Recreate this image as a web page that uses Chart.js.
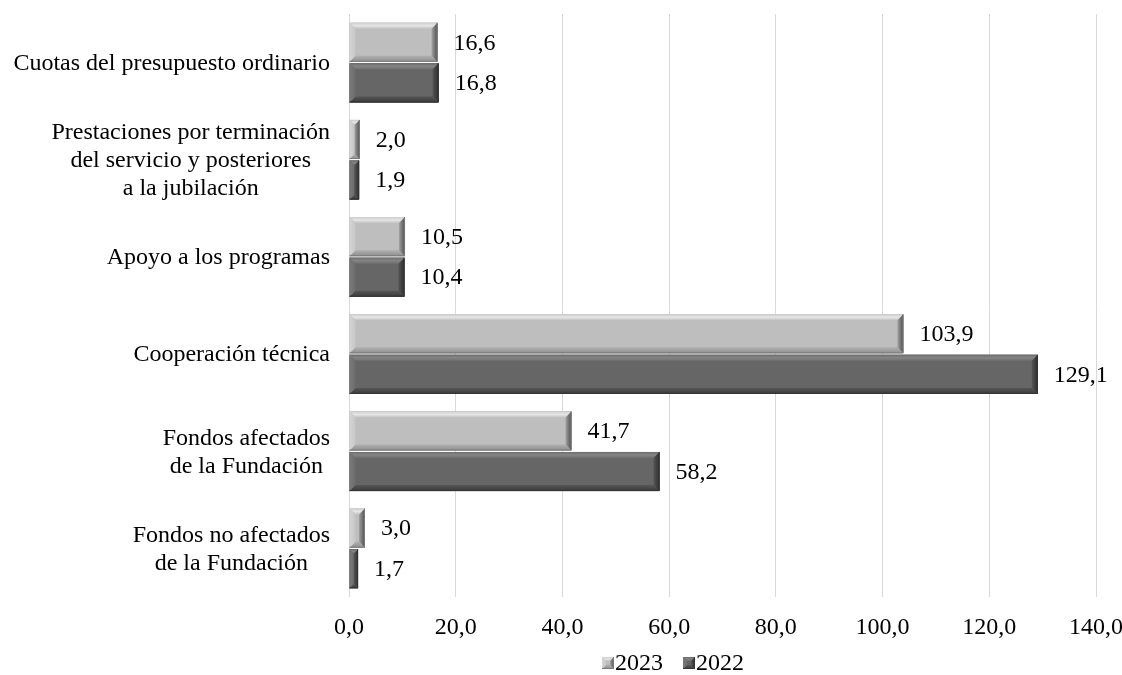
<!DOCTYPE html>
<html>
<head>
<meta charset="utf-8">
<script src="https://cdn.jsdelivr.net/npm/chart.js@4.4.1/dist/chart.umd.min.js"></script>
<style>
  html, body { margin: 0; padding: 0; background: #ffffff; }
  #wrap { width: 1122px; height: 675px; position: relative; }
</style>
</head>
<body>
<div id="wrap"><canvas id="c"></canvas></div>
<script>
// Categories (multi-line labels are arrays of lines)
const categories = [
  'Cuotas del presupuesto ordinario',
  ['Prestaciones por terminación', 'del servicio y posteriores', 'a la jubilación'],
  'Apoyo a los programas',
  'Cooperación técnica',
  ['Fondos afectados', 'de la Fundación'],
  ['Fondos no afectados', 'de la Fundación']
];
const seriesNames = ['2023', '2022'];
const values2023 = [16.6, 2.0, 10.5, 103.9, 41.7, 3.0];
const values2022 = [16.8, 1.9, 10.4, 129.1, 58.2, 1.7];
const xTickValues = [0, 20, 40, 60, 80, 100, 120, 140];

const FONT_FAMILY = '"Liberation Serif", "Times New Roman", serif';
const FONT_SIZE = 24;

// Face and edge shades for the two series
const palettes = [
  { base: '#bebebe',
    top: ['#cdcdcd', '#e6e6e6', '#c3c3c3'],
    bottom: ['#b0b0b0', '#8e8e8e'],
    left: ['#d6d6d6', '#c6c6c6'],
    right: ['#a2a2a2', '#4c4c4c'],
    edge: '#7a7a7a' },
  { base: '#666666',
    top: ['#6c6c6c', '#858585', '#6e6e6e'],
    bottom: ['#565656', '#3a3a3a'],
    left: ['#7a7a7a', '#6c6c6c'],
    right: ['#555555', '#2e2e2e'],
    edge: '#333333' }
];

const fmt = v => v.toFixed(1).replace('.', ',');

// Bevelled rectangle: flat face plus four sloped edges shaded with gradients
function drawBevel(ctx, l, t, r, b, pal, depth) {
  const w = r - l, h = b - t;
  if (w <= 0 || h <= 0) return;
  const d = Math.max(1, Math.min(depth, w / 2, h / 2));
  ctx.save();
  ctx.fillStyle = pal.base;
  ctx.fillRect(l, t, w, h);
  const poly = (pts, fill) => {
    ctx.beginPath();
    ctx.moveTo(pts[0][0], pts[0][1]);
    for (let i = 1; i < pts.length; i++) ctx.lineTo(pts[i][0], pts[i][1]);
    ctx.closePath();
    ctx.fillStyle = fill;
    ctx.fill();
  };
  const grad = (x0, y0, x1, y1, stops) => {
    const g = ctx.createLinearGradient(x0, y0, x1, y1);
    stops.forEach((c, i) => g.addColorStop(i / (stops.length - 1), c));
    return g;
  };
  poly([[l, t], [r, t], [r - d, t + d], [l + d, t + d]], grad(0, t, 0, t + d, pal.top));
  poly([[l, b], [r, b], [r - d, b - d], [l + d, b - d]], grad(0, b - d, 0, b, pal.bottom));
  poly([[l, t], [l + d, t + d], [l + d, b - d], [l, b]], grad(l, 0, l + d, 0, pal.left));
  poly([[r, t], [r - d, t + d], [r - d, b - d], [r, b]], grad(r - d, 0, r, 0, pal.right));
  ctx.strokeStyle = pal.edge;
  ctx.lineWidth = 1;
  ctx.beginPath();
  ctx.moveTo(r - 0.5, t);
  ctx.lineTo(r - 0.5, b - 0.5);
  ctx.lineTo(l, b - 0.5);
  ctx.stroke();
  ctx.restore();
}

// Bevel overlay on each bar, plus its value label at the bar end
const bevelBars = {
  id: 'bevelBars',
  afterDatasetsDraw(chart) {
    const ctx = chart.ctx;
    chart.data.datasets.forEach((ds, di) => {
      const meta = chart.getDatasetMeta(di);
      meta.data.forEach((bar, i) => {
        const p = bar.getProps(['x', 'y', 'base', 'height'], true);
        const l = Math.min(p.x, p.base), r = Math.max(p.x, p.base);
        const t = p.y - p.height / 2, b = p.y + p.height / 2;
        drawBevel(ctx, l, t, r, b, palettes[di], 6);
        ctx.save();
        ctx.font = FONT_SIZE + 'px ' + FONT_FAMILY;
        ctx.fillStyle = '#000000';
        ctx.textAlign = 'left';
        ctx.textBaseline = 'middle';
        ctx.fillText(fmt(ds.data[i]), r + 16, p.y + 1);
        ctx.restore();
      });
    });
  }
};

// Category labels: block right-aligned to the axis, lines centred within it
const categoryLabels = {
  id: 'categoryLabels',
  afterDraw(chart) {
    const ctx = chart.ctx;
    const yScale = chart.scales.y;
    const right = chart.chartArea.left - 19;
    const lh = 28;
    ctx.save();
    ctx.font = FONT_SIZE + 'px ' + FONT_FAMILY;
    ctx.fillStyle = '#000000';
    ctx.textAlign = 'center';
    ctx.textBaseline = 'middle';
    categories.forEach((lab, i) => {
      const lines = Array.isArray(lab) ? lab : [lab];
      const maxW = Math.max(...lines.map(s => ctx.measureText(s).width));
      const cx = right - maxW / 2;
      const cy = yScale.getPixelForValue(i);
      lines.forEach((s, j) => {
        ctx.fillText(s, cx, cy + (j - (lines.length - 1) / 2) * lh + 1);
      });
    });
    ctx.restore();
  }
};

// Series key under the value axis: bevelled square followed by the year
const seriesKey = {
  id: 'seriesKey',
  afterDraw(chart) {
    const ctx = chart.ctx;
    const box = 12, gapText = 1, gapItem = 20;
    const cy = chart.height - 12;
    const centreX = chart.chartArea.left + 324;
    ctx.save();
    ctx.font = FONT_SIZE + 'px ' + FONT_FAMILY;
    const items = chart.data.datasets.map((ds, i) => ({ text: ds.label, w: ctx.measureText(ds.label).width, pal: palettes[i] }));
    const total = items.reduce((s, it) => s + box + gapText + it.w, 0) + gapItem * (items.length - 1);
    let x = centreX - total / 2;
    items.forEach(it => {
      drawBevel(ctx, x, cy - box / 2, x + box, cy + box / 2, it.pal, 4);
      ctx.fillStyle = '#000000';
      ctx.textAlign = 'left';
      ctx.textBaseline = 'middle';
      ctx.fillText(it.text, x + box + gapText, cy + 1);
      x += box + gapText + it.w + gapItem;
    });
    ctx.restore();
  }
};

new Chart(document.getElementById('c'), {
  type: 'bar',
  data: {
    labels: categories,
    datasets: [
      { label: seriesNames[0], data: values2023, backgroundColor: palettes[0].base, borderWidth: 0 },
      { label: seriesNames[1], data: values2022, backgroundColor: palettes[1].base, borderWidth: 0 }
    ]
  },
  options: {
    indexAxis: 'y',
    responsive: true,
    maintainAspectRatio: false,
    animation: false,
    devicePixelRatio: 1,
    layout: { padding: { top: 14, right: 0, left: 0, bottom: 37 } },
    datasets: { bar: { categoryPercentage: 0.835, barPercentage: 0.965 } },
    scales: {
      x: {
        min: 0, max: 140,
        afterBuildTicks(scale) { scale.ticks = xTickValues.map(v => ({ value: v })); },
        afterFit(scale) {
          scale.height = 41;
          scale.paddingLeft = 0;
          scale.paddingRight = 26;
        },
        grid: { color: '#d9d9d9', lineWidth: 1, drawTicks: false },
        border: { display: false },
        ticks: {
          padding: 16,
          color: '#000000',
          font: { family: FONT_FAMILY, size: FONT_SIZE },
          callback: v => fmt(v),
          maxRotation: 0,
          autoSkip: false
        }
      },
      y: {
        afterFit(scale) { scale.width = 349; },
        grid: { display: false, drawTicks: false },
        border: { display: false },
        ticks: { display: false }
      }
    },
    plugins: {
      legend: { display: false },
      tooltip: { enabled: false }
    }
  },
  plugins: [bevelBars, categoryLabels, seriesKey]
});
</script>
</body>
</html>
